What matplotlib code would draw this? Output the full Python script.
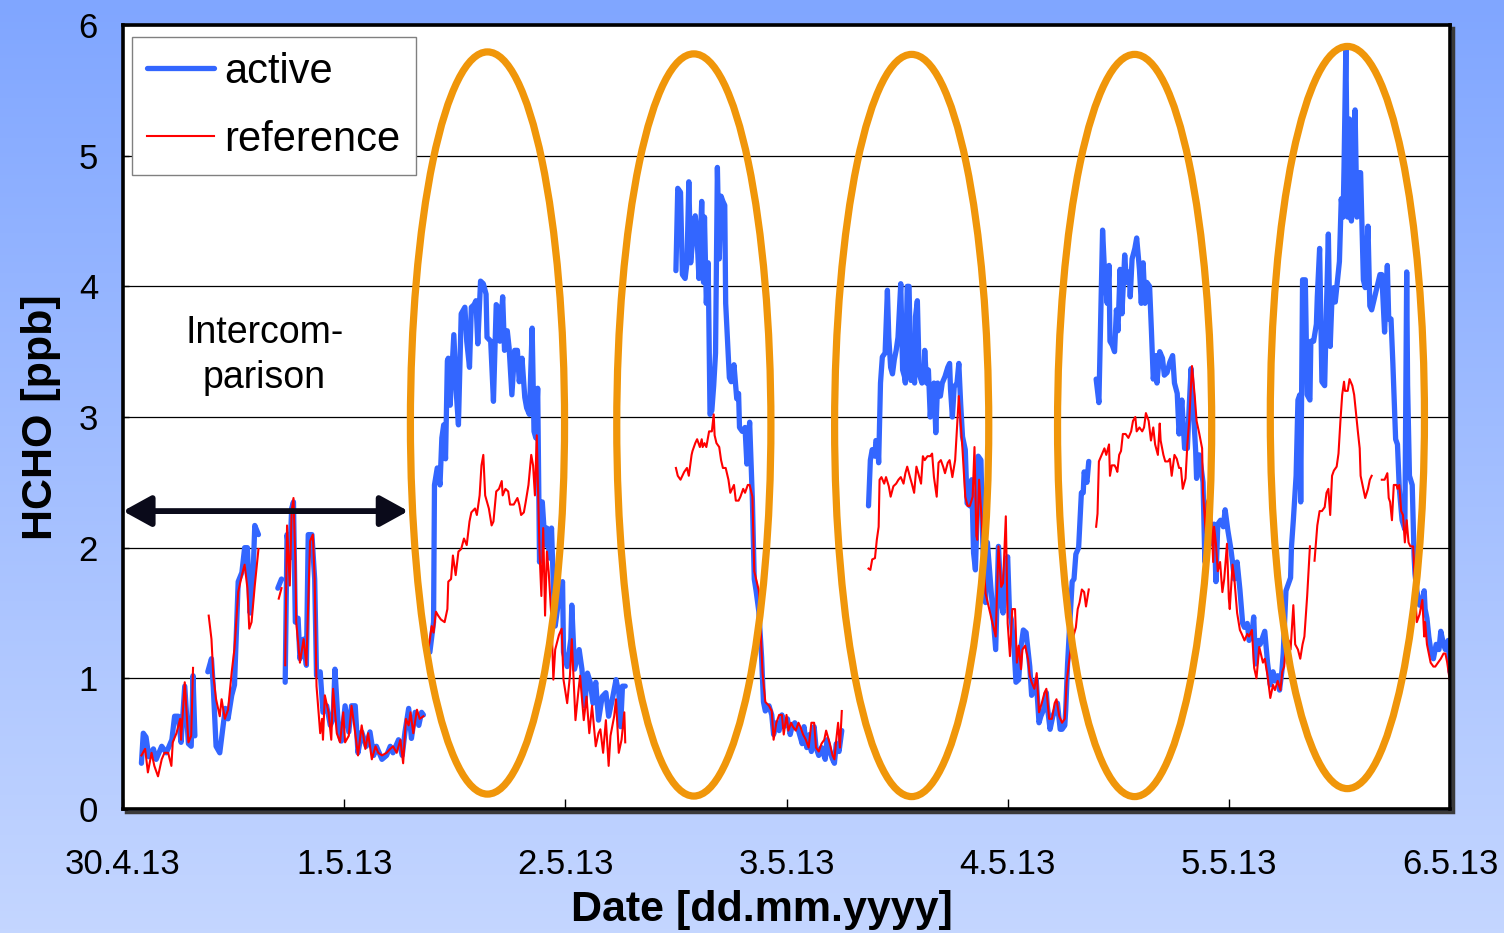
import numpy as np
import matplotlib
matplotlib.use('Agg')
import matplotlib.pyplot as plt
import matplotlib.dates as mdates
from matplotlib.patches import Ellipse, Rectangle
from matplotlib.colors import LinearSegmentedColormap

plt.rcParams['font.family'] = ['Liberation Sans', 'DejaVu Sans']

# hours after 30.4.13 00:00, nan = gap in the record
nan = np.nan
active_h = [
    2.0, 2.2, 2.5, 2.8, 3.3, 3.6, 4.2, 4.7, 5.3, 5.6, 6.0, 6.3, 6.7, 7.1, 7.4, 7.6, 7.8, nan,
    9.2, 9.6, 9.8, 10.1, 10.5, 10.9, 11.1, 11.4, 11.8, 12.1, 12.5, 12.9, 13.2, 13.5, 13.8, 14.1, 14.3, 14.7, nan,
    16.8, 17.2, nan,
    17.6, 17.8, 18.1, 18.3, 18.5, 18.7, 19.0, 19.2, 19.6, 19.9, 20.1, 20.5, 20.8, 21.0, 21.4, 21.7, 22.1, 22.5,
    22.8, 23.0, 23.4, 23.7, 24.1, 24.5, 24.8, 25.2, 25.5, 25.9, 26.4, 26.8, 27.2, 27.5, 28.1, 28.6, 29.0, 29.3,
    29.9, 30.3, 30.6, 31.0, 31.3, 31.7, 32.1, 32.4, 32.6, nan,
    33.3, 33.7, 33.8, 34.1, 34.4, 34.6, 34.8, 35.0, 35.2, 35.3, 35.5, 35.9, 36.2, 36.4, 36.7, 37.1, 37.3, 37.6,
    37.8, 38.1, 38.3, 38.5, 38.8, 39.1, 39.4, 39.5, 39.9, 40.2, 40.5, 40.7, 40.9, 41.2, 41.4, 41.7, 41.9, 42.2,
    42.5, 42.8, 43.0, 43.3, 43.6, 43.8, 44.1, 44.4, 44.6, 44.8, 45.0, 45.2, 45.5, 45.8, 46.0, 46.3, 46.5, 46.7,
    46.9, 47.3, 47.7, 47.8, 48.2, 48.6, 48.7, 49.0, 49.5, 49.8, 50.1, 50.4, 50.7, 51.0, 51.3, 51.6, 52.0, 52.4,
    52.7, 53.1, 53.5, 53.8, 54.0, 54.2, 54.5, nan,
    60.0, 60.2, 60.5, 60.7, 61.0, 61.2, 61.4, 61.6, 61.8, 62.1, 62.3, 62.5, 62.8, 63.0, 63.1, 63.3, 63.5, 63.7,
    63.9, 64.1, 64.3, 64.5, 64.7, 64.9, 65.1, 65.3, 65.4, 65.8, 66.0, 66.3, 66.6, 66.8, 66.9, 67.2, 67.5, 67.7,
    68.0, 68.3, 68.5, 68.7, 69.0, 69.3, 69.5, 69.7, 70.1, 70.4, 70.6, 70.9, 71.2, 71.5, 71.7, 72.1, 72.4, 72.6,
    72.9, 73.3, 73.7, 73.9, 74.2, 74.5, 74.7, 75.0, 75.2, 75.5, 75.8, 76.2, 76.4, 76.7, 77.0, 77.2, 77.4, 77.7,
    78.0, nan,
    80.9, 81.1, 81.3, 81.6, 81.7, 81.9, 82.0, 82.2, 82.4, 82.7, 82.95, 83.1, 83.3, 83.5, 83.7, 83.9, 84.1, 84.4,
    84.6, 84.8, 84.9, 85.1, 85.3, 85.5, 85.7, 85.9, 86.0, 86.2, 86.4, 86.7, 86.9, 87.0, 87.2, 87.4, 87.6, 87.8,
    88.0, 88.2, 88.4, 88.6, 88.7, 88.9, 89.2, 89.5, 89.7, 89.8, 90.0, 90.2, 90.5, 90.7, 90.9, 91.1, 91.4, 91.6,
    91.9, 92.1, 92.3, 92.5, 92.6, 92.8, 93.1, 93.3, 93.5, 93.6, 93.8, 94.7, 95.0, 95.3, 95.5, 95.8, 96.0, 96.2,
    96.4, 96.5, 96.7, 96.9, 97.2, 97.4, 97.7, 98.0, 98.2, 98.4, 98.6, 98.9, 99.1, 99.4, 99.6, 99.9, 100.2, 100.3,
    100.6, 100.9, 101.2, 101.4, 101.7, 101.9, 102.2, 102.3, 102.5, 102.7, 103.0, 103.2, 103.4, 103.7, 104.0,
    104.2, 104.3, 104.6, 104.8, nan,
    105.6, 105.9, 106.05, 106.3, 106.5, 106.8, 107.0, 107.1, 107.35, 107.6, 107.8, 107.97, 108.2, 108.4, 108.7,
    108.9, 109.2, 109.3, 109.5, 109.8, 110.0, 110.3, 110.5, 110.7, 110.9, 111.1, 111.4, 111.6, 111.8, 112.1,
    112.2, 112.5, 112.8, 113.0, 113.3, 113.6, 113.9, 114.1, 114.4, 114.6, 114.9, 115.2, 115.5, 115.7, 115.9,
    116.2, 116.4, 116.5, 116.8, 117.0, 117.2, 117.4, 117.6, 117.8, 118.1, 118.4, 118.6, 118.8, 119.1, 119.4,
    119.6, 119.9, 120.2, 120.4, 120.6, 120.9, 121.2, 121.5, 121.7, 122.0, 122.2, 122.5, 122.7, 122.9, 123.2,
    123.4, 123.7, 123.9, 124.2, 124.5, 124.8, 125.0, 125.3, 125.5, 125.75, 125.9, 126.2, 126.5, 126.7, 126.8,
    127.0, 127.3, 127.5, 127.7, 127.8, 128.0, 128.3, 128.5, 128.8, 128.9, 129.2, 129.5, 129.6, 129.85, 130.1,
    130.4, 130.6, 130.8, 131.0, 131.2, 131.4, 131.55, 131.8, 132.0, 132.2, 132.4, 132.5, 132.7, 132.9, 133.1,
    133.3, 133.5, 133.7, 133.9, 134.1, 134.3, 134.6, 134.8, 135.1, 135.3, 135.5, 136.4, 136.6, 136.9, 137.2,
    137.35, 137.6, 137.8, 138.1, 138.3, 138.5, 138.8, 139.1, 139.3, 139.4, 139.6, 139.9, 140.1, 140.2, 140.4,
    140.7, 141.0, 141.2, 141.3, 141.5, 141.7, 141.9, 142.2, 142.5, 142.8, 143.0, 143.3, 143.5, 143.8, 144.0,
]
active_ppb = [
    0.35, 0.58, 0.55, 0.40, 0.46, 0.38, 0.48, 0.43, 0.53, 0.71, 0.71, 0.51, 0.94, 0.50, 0.48, 1.02, 0.56, nan,
    1.05, 1.15, 0.93, 0.48, 0.43, 0.66, 0.77, 0.69, 0.87, 0.95, 1.74, 1.81, 2.00, 2.00, 1.50, 1.76, 2.17, 2.10, nan,
    1.69, 1.76, nan,
    0.97, 2.10, 1.92, 2.30, 2.35, 1.43, 1.46, 1.15, 1.30, 1.10, 2.10, 2.10, 1.76, 1.02, 1.05, 0.74, 0.79, 0.64,
    0.69, 1.07, 0.59, 0.52, 0.79, 0.59, 0.79, 0.79, 0.43, 0.59, 0.48, 0.59, 0.41, 0.48, 0.38, 0.41, 0.48, 0.43,
    0.53, 0.41, 0.59, 0.77, 0.54, 0.74, 0.64, 0.74, 0.72, nan,
    1.20, 1.43, 2.48, 2.61, 2.48, 2.84, 2.94, 2.68, 3.43, 3.45, 3.09, 3.63, 3.15, 2.94, 3.79, 3.84, 3.58, 3.38,
    3.84, 3.86, 3.89, 3.56, 4.04, 4.02, 3.94, 3.61, 3.58, 3.12, 3.86, 3.84, 3.58, 3.92, 3.51, 3.66, 3.53, 3.17,
    3.51, 3.51, 3.27, 3.45, 3.15, 3.07, 3.02, 3.68, 2.89, 2.84, 3.22, 1.89, 2.35, 2.02, 2.15, 1.92, 2.15, 1.71,
    1.40, 1.61, 1.74, 1.20, 1.09, 1.30, 1.56, 1.07, 1.22, 1.07, 0.79, 1.04, 0.97, 0.81, 0.97, 0.68, 0.86, 0.89,
    0.71, 0.84, 0.99, 0.89, 0.63, 0.94, 0.94, nan,
    4.12, 4.75, 4.72, 4.09, 4.06, 4.18, 4.80, 4.18, 4.34, 4.54, 4.37, 4.06, 4.65, 4.03, 4.53, 3.87, 4.18, 3.02,
    3.05, 3.24, 3.49, 4.91, 4.21, 4.69, 4.65, 4.62, 3.87, 3.30, 3.27, 3.40, 3.14, 3.18, 2.92, 2.89, 2.92, 2.64,
    2.96, 2.36, 1.76, 1.67, 1.51, 1.16, 0.82, 0.75, 0.79, 0.72, 0.57, 0.66, 0.60, 0.72, 0.63, 0.69, 0.57, 0.63,
    0.66, 0.60, 0.50, 0.63, 0.47, 0.57, 0.44, 0.63, 0.47, 0.41, 0.47, 0.38, 0.53, 0.44, 0.38, 0.35, 0.50, 0.44,
    0.60, nan,
    2.32, 2.67, 2.75, 2.70, 2.82, 2.80, 2.65, 3.26, 3.46, 3.49, 3.97, 3.61, 3.38, 3.33, 3.44, 3.51, 3.61, 4.02,
    3.36, 3.31, 3.26, 4.00, 4.00, 3.28, 3.36, 3.26, 3.77, 3.89, 3.33, 3.26, 3.31, 3.51, 3.26, 3.36, 3.00, 3.21,
    3.26, 2.88, 3.26, 3.16, 3.16, 3.26, 3.31, 3.38, 3.41, 3.21, 3.00, 3.23, 3.26, 3.41, 3.10, 2.85, 2.75, 2.34,
    2.32, 2.52, 1.96, 1.83, 2.06, 2.70, 2.67, 2.04, 1.73, 1.58, 2.04, 1.22, 2.01, 1.58, 1.50, 1.88, 1.93, 1.50,
    1.45, 1.37, 1.22, 0.97, 0.99, 1.22, 1.37, 1.35, 1.22, 1.09, 0.87, 0.92, 0.99, 0.66, 0.71, 0.76, 0.89, 0.79,
    0.61, 0.71, 0.76, 0.81, 0.61, 0.61, 0.64, 0.76, 1.11, 1.37, 1.74, 1.76, 1.95, 2.00, 2.42,
    2.42, 2.58, 2.50, 2.66, nan,
    3.29, 3.11, 3.61, 4.43, 4.13, 3.87, 4.16, 3.58, 3.55, 3.50, 3.82, 3.66, 4.13, 3.79, 4.24,
    4.03, 4.11, 3.92, 4.21, 4.29, 4.37, 4.13, 3.87, 4.18, 3.87, 4.03, 4.00, 3.66, 3.29, 3.47,
    3.26, 3.50, 3.45, 3.32, 3.34, 3.42, 3.47, 3.26, 3.18, 2.87, 3.13, 2.76, 2.76, 3.08, 3.37,
    3.00, 2.74, 2.53, 2.71, 2.61, 2.50, 1.89, 2.34, 2.29, 2.03, 2.18, 1.74, 2.18, 2.21, 2.16,
    2.29, 2.13, 2.00, 1.89, 1.76, 1.89, 1.68, 1.42, 1.39, 1.42, 1.29, 1.34, 1.47, 1.11, 1.29,
    1.26, 1.32, 1.36, 1.12, 0.95, 1.05, 0.98, 1.02, 0.91, 1.05, 1.19, 1.67, 1.73, 1.77, 2.01,
    2.21, 2.55, 3.13, 3.17, 2.35, 4.05, 4.05, 3.17, 3.13, 3.58, 3.58, 3.71, 3.92, 4.29, 3.27,
    3.24, 3.85, 4.40, 3.54, 3.92, 3.99, 3.88, 4.05, 4.19, 4.67, 4.53, 4.91, 5.83, 4.53, 5.28,
    4.50, 4.84, 5.35, 4.53, 4.87, 4.87, 4.05, 3.99, 4.46, 3.85, 3.82, 4.09, 4.09, 3.65, 4.16,
    3.75, 3.75, 3.41, 2.83, 2.79, 2.45, 2.21, 2.14, 4.11, 3.24, 2.55, 2.48, 1.94, 1.80, 1.67,
    1.56, 1.60, 1.67, 1.53, 1.46, 1.32, 1.22, 1.15, 1.26, 1.22, 1.36, 1.26, 1.22, 1.29, 1.05,
]

reference_h = [
    2.0, 2.4, 2.7, 3.1, 3.4, 3.8, 4.2, 4.5, 4.9, 5.25, 5.4, 5.8, 6.2, 6.3, 6.7, 7.1, 7.4, 7.6, nan,
    9.3, 9.6, 9.8, 10.1, 10.5, 10.7, 11.05, 11.4, 11.8, 12.1, 12.5, 12.9, 13.2, 13.5, 13.7, 13.95, 14.3, 14.7, nan,
    16.9, 17.2, nan,
    17.6, 17.8, 18.1, 18.3, 18.5, 18.7, 18.8, 19.2, 19.6, 19.75, 19.9, 20.3, 20.6, 20.8, 21.0, 21.4, 21.6, 21.7,
    21.9, 22.3, 22.6, 22.8, 23.2, 23.55, 23.9, 24.1, 24.5, 24.8, 25.2, 25.5, 25.9, 26.3, 26.6, 27.0, 27.4, 27.7,
    28.1, 28.6, 29.0, 29.3, 29.7, 30.1, 30.4, 30.7, 31.0, 31.2, 31.5, 31.9, 32.2, 32.6, nan,
    33.2, 33.5, 33.7, 33.96, 34.2, 34.5, 34.9, 35.2, 35.3, 35.6, 35.8, 36.1, 36.4, 36.7, 37.0, 37.3, 37.6, 37.8,
    38.2, 38.4, 38.7, 38.9, 39.1, 39.3, 39.7, 40.0, 40.2, 40.5, 40.8, 41.1, 41.2, 41.5, 41.8, 42.0, 42.4, 42.8,
    43.0, 43.2, 43.5, 43.7, 44.0, 44.3, 44.5, 44.7, 44.9, 45.2, 45.4, 45.6, 45.8, 46.0, 46.2, 46.5, 46.7, 46.9,
    47.3, 47.6, 47.8, 48.2, 48.5, 48.7, 49.1, 49.4, 49.6, 50.0, 50.3, 50.6, 50.9, 51.3, 51.6, 51.8, 52.1, 52.4,
    52.7, 52.9, 53.3, 53.5, 53.8, 54.1, 54.4, 54.5, nan,
    60.0, 60.2, 60.5, 60.9, 61.2, 61.4, 61.7, 61.8, 62.1, 62.3, 62.6, 62.8, 62.9, 63.1, 63.3, 63.6, 63.9, 64.1,
    64.2, 64.4, 64.7, 64.9, 65.1, 65.4, 65.7, 65.9, 66.3, 66.5, 66.8, 67.0, 67.3, 67.5, 67.8, 68.0, 68.3, 68.5,
    68.7, 69.0, 69.2, 69.4, 69.7, 70.1, 70.4, 70.6, 70.9, 71.2, 71.5, 71.7, 72.0, 72.2, 72.5, 72.7, 73.0, 73.3,
    73.5, 73.8, 74.1, 74.4, 74.7, 75.0, 75.2, 75.5, 75.8, 76.1, 76.3, 76.7, 77.0, 77.2, 77.4, 77.6, 77.8, 78.0, nan,
    80.9, 81.1, 81.3, 81.6, 81.8, 82.0, 82.1, 82.3, 82.6, 82.8, 83.1, 83.3, 83.6, 83.9, 84.15, 84.4, 84.7, 84.9,
    85.1, 85.4, 85.6, 85.85, 86.1, 86.3, 86.6, 86.8, 87.0, 87.3, 87.6, 87.8, 88.0, 88.3, 88.5, 88.75, 89.0, 89.2,
    89.5, 89.7, 90.0, 90.3, 90.45, 90.7, 90.9, 91.1, 91.4, 91.65, 91.9, 92.2, 92.4, 92.6, 92.7, 92.9, 93.2, 93.5,
    93.6, 94.7, 95.0, 95.3, 95.5, 95.8, 96.0, 96.25, 96.5, 96.8, 97.0, 97.2, 97.45, 97.6, 97.9, 98.2, 98.4, 98.6,
    98.9, 99.15, 99.4, 99.7, 100.0, 100.2, 100.5, 100.8, 101.1, 101.3, 101.6, 101.9, 102.2, 102.4, 102.75, 103.0,
    103.4, 103.6, 103.8, 104.05, 104.3, 104.5, 104.8, nan,
    105.6, 105.75, 105.9, 106.2, 106.5, 106.7, 107.0, 107.1, 107.3, 107.6, 107.75, 107.9, 108.1, 108.3, 108.5,
    108.8, 109.1, 109.4, 109.6, 109.85, 110.0, 110.3, 110.6, 110.8, 111.0, 111.3, 111.55, 111.8, 112.0, 112.3,
    112.5, 112.6, 112.9, 113.1, 113.4, 113.6, 113.8, 114.1, 114.35, 114.6, 114.8, 115.0, 115.3, 115.5, 115.7,
    116.0, 116.3, 116.5, 116.8, 117.1, 117.2, 117.5, 117.6, 117.8, 118.1, 118.3, 118.4, 118.6, 118.8, 119.05,
    119.3, 119.5, 119.8, 120.0, 120.1, 120.4, 120.6, 120.9, 121.2, 121.4, 121.7, 122.0, 122.2, 122.5, 122.75,
    123.0, 123.3, 123.7, 123.9, 124.2, 124.5, 124.8, 125.0, 125.3, 125.6, 125.8, 126.0, 126.2, 126.5, 126.7,
    127.0, 127.2, 127.5, 127.75, 128.0, 128.2, 128.4, 128.5, 128.8, nan,
    129.3, 129.6, 129.85, 130.1, 130.4, 130.6, 130.8, 131.0, 131.2, 131.4, 131.7, 131.9, 132.1, 132.3, 132.5,
    132.6, 132.9, 133.1, 133.4, 133.6, 133.8, 134.0, 134.2, 134.3, 134.6, 134.8, 135.1, 135.3, 135.5, nan,
    136.6, 136.9, 137.2, 137.35, 137.5, 137.7, 137.9, 138.2, 138.3, 138.5, 138.7, 138.9, 139.1, 139.3, 139.5,
    139.7, 140.0, 140.1, 140.2, 140.4, 140.7, 141.0, 141.2, 141.3, 141.5, 141.7, 141.9, 142.2, 142.4, 142.7,
    143.0, 143.3, 143.5, 143.7, 143.9, 144.0,
]
reference_ppb = [
    0.41, 0.46, 0.28, 0.43, 0.33, 0.25, 0.38, 0.43, 0.43, 0.33, 0.51, 0.58, 0.69, 0.53, 0.97, 0.51, 0.56, 1.08, nan,
    1.48, 1.30, 1.02, 0.84, 0.71, 0.84, 0.69, 0.76, 1.05, 1.23, 1.66, 1.79, 1.87, 1.69, 1.38, 1.43, 1.71, 1.99, nan,
    1.61, 1.69, nan,
    1.10, 2.17, 1.71, 2.28, 2.38, 1.92, 1.43, 1.12, 1.30, 1.20, 1.10, 2.05, 2.10, 1.76, 0.94, 0.58, 0.69, 0.53,
    0.87, 0.74, 0.53, 0.92, 0.58, 0.51, 0.74, 0.51, 0.56, 0.79, 0.58, 0.41, 0.64, 0.46, 0.58, 0.38, 0.48, 0.43,
    0.41, 0.43, 0.46, 0.48, 0.43, 0.53, 0.35, 0.69, 0.64, 0.74, 0.58, 0.76, 0.69, 0.71, nan,
    1.25, 1.40, 1.35, 1.51, 1.48, 1.45, 1.43, 1.53, 1.74, 1.76, 1.94, 1.79, 1.97, 1.99, 2.07, 2.02, 2.20, 2.27,
    2.30, 2.25, 2.40, 2.63, 2.71, 2.40, 2.30, 2.17, 2.20, 2.43, 2.45, 2.51, 2.40, 2.45, 2.43, 2.33, 2.33, 2.38,
    2.33, 2.25, 2.27, 2.35, 2.48, 2.71, 2.63, 2.40, 2.86, 1.97, 1.63, 2.15, 1.48, 1.97, 1.81, 1.45, 0.99, 1.22,
    1.33, 1.38, 0.99, 0.81, 1.02, 1.30, 0.68, 0.89, 1.02, 0.68, 0.86, 0.58, 0.79, 0.48, 0.58, 0.61, 0.43, 0.68,
    0.33, 0.56, 0.71, 0.84, 0.43, 0.53, 0.74, 0.51, nan,
    2.61, 2.55, 2.52, 2.58, 2.61, 2.55, 2.71, 2.74, 2.80, 2.83, 2.77, 2.83, 2.77, 2.80, 2.77, 2.89, 2.89, 3.02,
    2.86, 2.80, 2.77, 2.67, 2.61, 2.61, 2.52, 2.42, 2.48, 2.36, 2.36, 2.39, 2.45, 2.42, 2.48, 2.48, 2.39, 1.82,
    1.76, 1.67, 1.35, 1.04, 0.82, 0.79, 0.75, 0.53, 0.66, 0.72, 0.72, 0.57, 0.72, 0.60, 0.66, 0.63, 0.60, 0.66,
    0.63, 0.57, 0.53, 0.47, 0.66, 0.66, 0.47, 0.44, 0.50, 0.53, 0.60, 0.50, 0.41, 0.38, 0.53, 0.66, 0.47, 0.75, nan,
    1.84, 1.83, 1.91, 1.92, 2.06, 2.16, 2.52, 2.54, 2.49, 2.54, 2.47, 2.39, 2.47, 2.49, 2.52, 2.54, 2.49, 2.57,
    2.62, 2.54, 2.49, 2.42, 2.62, 2.57, 2.49, 2.70, 2.67, 2.70, 2.70, 2.72, 2.54, 2.39, 2.65, 2.67, 2.62, 2.57,
    2.65, 2.67, 2.54, 2.67, 2.85, 3.16, 2.95, 2.75, 2.39, 2.32, 2.32, 2.39, 2.77, 2.09, 2.06, 2.52, 2.19, 1.76,
    1.65, 1.32, 2.01, 1.70, 1.73, 2.24, 1.42, 1.17, 1.53, 1.53, 1.12, 1.25, 1.07, 1.22, 1.25, 1.15, 1.02, 0.97,
    0.92, 1.04, 0.74, 0.81, 0.89, 0.92, 0.69, 0.69, 0.81, 0.84, 0.71, 0.66, 0.69, 0.97, 1.18, 1.29,
    1.39, 1.53, 1.58, 1.68, 1.66, 1.55, 1.68, nan,
    2.16, 2.26, 2.66, 2.71, 2.76, 2.71, 2.79, 2.55, 2.63, 2.63, 2.61, 2.58, 2.71, 2.74, 2.87,
    2.87, 2.84, 2.89, 2.97, 3.00, 2.89, 2.92, 2.89, 2.92, 3.03, 2.97, 2.82, 2.92, 2.79, 2.71,
    2.95, 2.82, 2.71, 2.66, 2.66, 2.68, 2.55, 2.71, 2.68, 2.61, 2.61, 2.45, 2.53, 2.79, 2.97,
    3.39, 3.16, 2.97, 2.87, 2.76, 2.42, 2.11, 2.34, 2.39, 2.24, 1.89, 2.16, 2.03, 1.82, 1.89,
    1.66, 1.76, 2.03, 1.61, 1.53, 1.87, 1.76, 1.50, 1.37, 1.34, 1.29, 1.34, 1.32, 1.37, 1.08,
    1.00, 1.24, 1.12, 1.15, 1.02, 0.85, 0.95, 0.91, 0.98, 0.91, 1.05, 1.09, 1.26, 1.29, 1.22,
    1.56, 1.26, 1.22, 1.15, 1.26, 1.32, 1.53, 1.63, 2.01, nan,
    1.90, 2.17, 2.28, 2.28, 2.31, 2.42, 2.45, 2.25, 2.55, 2.59, 2.62, 2.72, 2.96, 3.17, 3.27,
    3.20, 3.20, 3.29, 3.24, 3.17, 3.03, 2.89, 2.76, 2.55, 2.45, 2.38, 2.45, 2.52, 2.55, nan,
    2.52, 2.52, 2.57, 2.38, 2.35, 2.21, 2.48, 2.48, 2.45, 2.48, 2.28, 2.25, 2.04, 2.21, 2.04,
    2.01, 2.01, 1.87, 1.67, 1.43, 1.49, 1.60, 1.32, 1.43, 1.26, 1.19, 1.12, 1.09, 1.09, 1.12,
    1.15, 1.19, 1.19, 1.12, 1.02, 0.98,
]

# day positions (after 30.4.13) of the marked daytime periods and the intercomparison span
highlight_days = [1.648, 2.581, 3.566, 4.574, 5.536]
highlight_mid = [2.954, 2.939, 2.935, 2.935, 2.996]
intercomparison_days = (0.0, 1.29)
tick_labels = ['30.4.13', '1.5.13', '2.5.13', '3.5.13', '4.5.13', '5.5.13', '6.5.13']

W, H = 1504, 933
fig = plt.figure(figsize=(W / 100, H / 100), dpi=100)

# blue gradient background
bg = fig.add_axes([0, 0, 1, 1], zorder=-10)
grad = np.linspace(0, 1, 256).reshape(-1, 1)
cmap = LinearSegmentedColormap.from_list('bg', ['#80a6ff', '#c4d6ff'])
bg.imshow(grad, aspect='auto', cmap=cmap, extent=[0, 1, 0, 1])
bg.axis('off')

left, right, top, bottom = 123, 1450, 25, 809
ax_rect = [left / W, 1 - bottom / H, (right - left) / W, (bottom - top) / H]

# frame shadow
fig.add_artist(Rectangle((ax_rect[0] + 3 / W, ax_rect[1] - 3 / H), ax_rect[2], ax_rect[3],
                         transform=fig.transFigure, facecolor='none', edgecolor='#3a3a3a',
                         lw=2.5, zorder=0))

ax = fig.add_axes(ax_rect, zorder=1)
ax.set_facecolor('white')

base = mdates.date2num(np.datetime64('2013-04-30T00:00'))
xa = base + np.array(active_h) / 24.0
xr = base + np.array(reference_h) / 24.0

ax.plot(xa, active_ppb, color='#3366ff', lw=3.8, solid_joinstyle='round',
        solid_capstyle='round', label='active', zorder=3)
ax.plot(xr, reference_ppb, color='#ff0000', lw=1.5, label='reference', zorder=4)

for d, m in zip(highlight_days, highlight_mid):
    ax.add_patch(Ellipse((base + d, m), 0.697, 5.68, facecolor='none',
                         edgecolor='#f0960a', lw=5.2, zorder=6, clip_on=False))

ax.annotate('', xy=(base + intercomparison_days[1], 2.28), xytext=(base + intercomparison_days[0], 2.28),
            arrowprops=dict(arrowstyle='<|-|>,head_length=1.0,head_width=0.55', lw=4.2,
                            color='#0a0a1a', shrinkA=0, shrinkB=0, mutation_scale=17),
            zorder=7, annotation_clip=False)
ax.text(base + 0.64, 3.47, 'Intercom-\nparison', ha='center', va='center', fontsize=27,
        linespacing=1.32, zorder=7)

ax.set_xlim(base, base + 6)
ax.set_ylim(0, 6)
ax.set_xticks(base + np.arange(7))
ax.set_xticklabels(tick_labels)
ax.set_yticks(np.arange(7))
ax.tick_params(axis='x', direction='in', length=7, width=1, labelsize=25, pad=28)
ax.tick_params(axis='y', direction='in', length=4, width=1, labelsize=25, pad=18)
ax.grid(axis='y', color='black', lw=0.9)
ax.set_axisbelow(True)
for s in ax.spines.values():
    s.set_linewidth(2.6)
    s.set_zorder(8)

ax.set_xlabel('Date [dd.mm.yyyy]', fontsize=31, fontweight='bold')
ax.xaxis.set_label_coords(0.4815, -0.103)
ax.set_ylabel('HCHO [ppb]', fontsize=31, fontweight='bold')
ax.yaxis.set_label_coords(-0.047, 0.5)

leg = ax.legend(loc='upper left', bbox_to_anchor=(9 / 1327, 1 - 12 / 784), fontsize=30,
                frameon=True, fancybox=False, edgecolor='#808080', framealpha=1,
                handlelength=1.6, handletextpad=0.26, labelspacing=0.67, borderpad=0.36,
                borderaxespad=0)
leg.get_frame().set_linewidth(1)
leg.set_zorder(10)

fig.savefig('out.png', dpi=100)
